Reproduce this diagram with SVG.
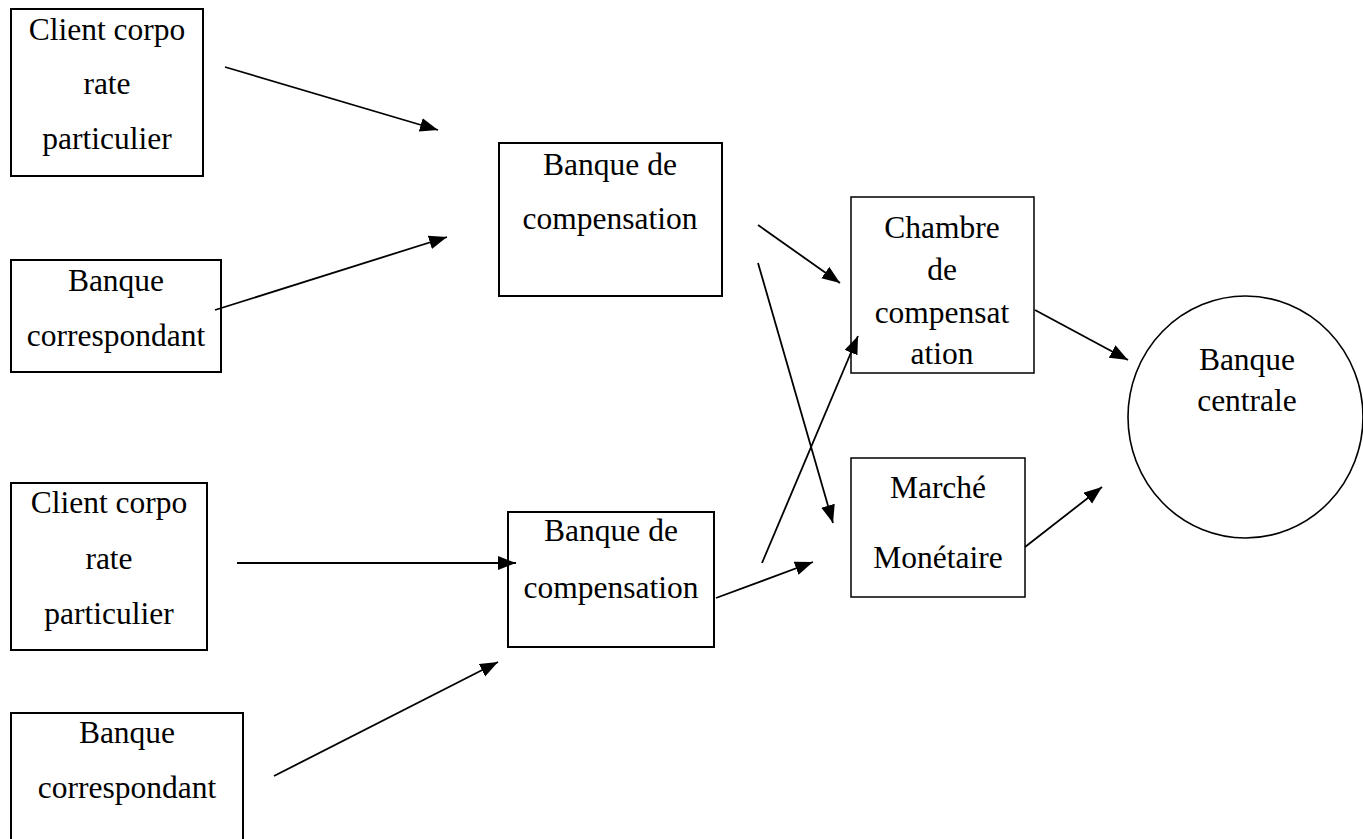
<svg xmlns="http://www.w3.org/2000/svg" width="1363" height="839" viewBox="0 0 1363 839">
<style>
.box{fill:#fff;stroke:#000;stroke-width:2}
.thin{stroke-width:1.5}
.t{font-family:"Liberation Serif","Times New Roman",serif;font-size:31.5px;fill:#000;text-anchor:middle}
.c{fill:none;stroke:#000;stroke-width:1.8;marker-end:url(#ah)}
</style>
<defs>
<marker id="ah" markerUnits="userSpaceOnUse" markerWidth="20" markerHeight="16" refX="18" refY="7" orient="auto">
<path d="M0,0 L18,7 L0,14 z" fill="#000"/>
</marker>
<clipPath id="clipCh"><rect x="851" y="197" width="183" height="167"/></clipPath>
</defs>
<rect width="1363" height="839" fill="#fff"/>
<g id="client1">
<rect class="box" x="11" y="9" width="192" height="167"/>
<text class="t" x="107" y="40">Client corpo</text>
<text class="t" x="107" y="94">rate</text>
<text class="t" x="107" y="149">particulier</text>
</g>
<g id="correspondant1">
<rect class="box" x="11" y="260" width="210" height="112"/>
<text class="t" x="116" y="291">Banque</text>
<text class="t" x="116" y="346">correspondant</text>
</g>
<g id="compensation1">
<rect class="box" x="499" y="143" width="223" height="153"/>
<text class="t" x="610" y="175">Banque de</text>
<text class="t" x="610" y="229">compensation</text>
</g>
<g id="chambre">
<rect class="box thin" x="851" y="197" width="183" height="176"/>
<g clip-path="url(#clipCh)">
<text class="t" x="942" y="238">Chambre</text>
<text class="t" x="942" y="280">de</text>
<text class="t" x="942" y="323">compensat</text>
<text class="t" x="942" y="364">ation</text>
</g>
</g>
<g id="marche">
<rect class="box thin" x="851" y="458" width="174" height="139"/>
<text class="t" x="938" y="498">Marché</text>
<text class="t" x="938" y="568">Monétaire</text>
</g>
<g id="banquecentrale">
<ellipse cx="1245.5" cy="417" rx="117.5" ry="121" fill="#fff" stroke="#000" stroke-width="1.6"/>
<text class="t" x="1247" y="370">Banque</text>
<text class="t" x="1247" y="411">centrale</text>
</g>
<g id="client2">
<rect class="box" x="11" y="483" width="196" height="167"/>
<text class="t" x="109" y="513">Client corpo</text>
<text class="t" x="109" y="569">rate</text>
<text class="t" x="109" y="624">particulier</text>
</g>
<g id="compensation2">
<rect class="box" x="508" y="512" width="206" height="135"/>
<text class="t" x="611" y="541">Banque de</text>
<text class="t" x="611" y="598">compensation</text>
</g>
<g id="correspondant2">
<rect class="box" x="11" y="713" width="232" height="140"/>
<text class="t" x="127" y="743">Banque</text>
<text class="t" x="127" y="798">correspondant</text>
</g>
<g id="connectors">
<line class="c" x1="225" y1="67" x2="438" y2="130"/>
<line class="c" x1="215" y1="310" x2="447" y2="237"/>
<line class="c" x1="758" y1="225" x2="840" y2="283"/>
<line class="c" x1="758" y1="263" x2="833" y2="523"/>
<line class="c" x1="762" y1="563" x2="858" y2="336"/>
<line class="c" x1="716" y1="598" x2="813" y2="562"/>
<line class="c" x1="1035" y1="310" x2="1128" y2="360"/>
<line class="c" x1="1025" y1="547" x2="1102" y2="487"/>
<line class="c" x1="237" y1="563" x2="516" y2="563" style="stroke-width:2.2"/>
<line class="c" x1="274" y1="776" x2="498" y2="662"/>
</g>
</svg>
